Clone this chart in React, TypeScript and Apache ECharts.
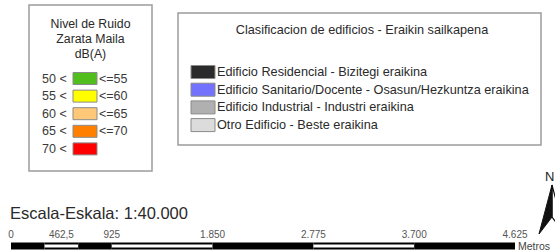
import React, { useEffect, useRef } from "react";
import * as echarts from "echarts";

const noiseTitle = ["Nivel de Ruido", "Zarata Maila", "dB(A)"];
const noiseLower = ["50 <", "55 <", "60 <", "65 <", "70 <"];
const noiseUpper = ["<=55", "<=60", "<=65", "<=70", ""];
const noiseColors = ["#52BE1E", "#FFFF00", "#FFC878", "#FF8000", "#FF0000"];

const buildingTitle = "Clasificacion de edificios - Eraikin sailkapena";
const buildingTypes = [
  "Edificio Residencial - Bizitegi eraikina",
  "Edificio Sanitario/Docente - Osasun/Hezkuntza eraikina",
  "Edificio Industrial - Industri eraikina",
  "Otro Edificio - Beste eraikina",
];
const buildingColors = ["#2B2B2B", "#7272FF", "#B0B0B0", "#DCDCDC"];

const scaleTitle = "Escala-Eskala: 1:40.000";
const scaleBreaks = [0, 308.33, 616.67, 925, 1850, 2775, 3700, 4625];
const scaleTickValues = [0, 462.5, 925, 1850, 2775, 3700, 4625];
const scaleTickLabels = ["0", "462,5", "925", "1.850", "2.775", "3.700", "4.625"];
const scaleUnit = "Metros";
const northLabel = "N";

const FONT = "Liberation Sans, Arial, sans-serif";

export default function App() {
  const ref = useRef<HTMLDivElement>(null);
  useEffect(() => {
    if (!ref.current) return;
    const chart = echarts.init(ref.current, undefined, { renderer: "svg" });

    const graphics: any[] = [];
    // Noise legend box
    graphics.push({
      type: "rect",
      shape: { x: 29, y: 5, width: 123, height: 166 },
      style: { fill: "#fff", stroke: "#9c9c9c", lineWidth: 1.5 },
    });
    noiseTitle.forEach((t, i) => {
      graphics.push({
        type: "text",
        x: 90.5,
        y: 23.5 + i * 15,
        style: { text: t, fontSize: 12.3, fontFamily: FONT, fill: "#2a2a2a", align: "center", verticalAlign: "middle" },
      });
    });
    noiseLower.forEach((t, i) => {
      const top = 72.5 + i * 17.6;
      graphics.push({
        type: "text",
        x: 42,
        y: top + 6,
        style: { text: t, fontSize: 12.5, fontFamily: FONT, fill: "#3a3a3a", align: "left", verticalAlign: "middle" },
      });
      graphics.push({
        type: "rect",
        shape: { x: 73, y: top, width: 24, height: 12 },
        style: { fill: noiseColors[i], stroke: "#8a8a8a", lineWidth: 1 },
      });
      if (noiseUpper[i]) {
        graphics.push({
          type: "text",
          x: 99,
          y: top + 6,
          style: { text: noiseUpper[i], fontSize: 12.5, fontFamily: FONT, fill: "#3a3a3a", align: "left", verticalAlign: "middle" },
        });
      }
    });

    // Building legend box
    graphics.push({
      type: "rect",
      shape: { x: 178, y: 13, width: 363, height: 132 },
      style: { fill: "#fff", stroke: "#9c9c9c", lineWidth: 1.5 },
    });
    graphics.push({
      type: "text",
      x: 362,
      y: 30,
      style: { text: buildingTitle, fontSize: 12.7, fontFamily: FONT, fill: "#2a2a2a", align: "center", verticalAlign: "middle" },
    });
    buildingTypes.forEach((t, i) => {
      const top = 65.5 + i * 17.7;
      graphics.push({
        type: "rect",
        shape: { x: 191, y: top, width: 24, height: 13 },
        style: { fill: buildingColors[i], stroke: "#8a8a8a", lineWidth: 1 },
      });
      graphics.push({
        type: "text",
        x: 217,
        y: top + 6.5,
        style: { text: t, fontSize: 12.7, fontFamily: FONT, fill: "#2a2a2a", align: "left", verticalAlign: "middle" },
      });
    });

    // Scale title
    graphics.push({
      type: "text",
      x: 10,
      y: 213,
      style: { text: scaleTitle, fontSize: 16.5, fontFamily: FONT, fill: "#2a2a2a", align: "left", verticalAlign: "middle" },
    });
    // Unit
    graphics.push({
      type: "text",
      x: 518,
      y: 245.5,
      style: { text: scaleUnit, fontSize: 10.5, fontFamily: FONT, fill: "#444", align: "left", verticalAlign: "middle" },
    });
    // North arrow
    graphics.push({
      type: "text",
      x: 545,
      y: 176,
      style: { text: northLabel, fontSize: 13, fontFamily: FONT, fill: "#222", align: "left", verticalAlign: "middle" },
    });
    graphics.push({
      type: "polygon",
      shape: { points: [[552, 185], [565, 234], [552, 217]] },
      style: { fill: "#fff", stroke: "#111", lineWidth: 1.2 },
    });
    graphics.push({
      type: "polygon",
      shape: { points: [[552, 185], [539, 234], [552, 217]] },
      style: { fill: "#111", stroke: "#111", lineWidth: 1 },
    });

    const segments = scaleBreaks.slice(0, -1).map((s, i) => [s, scaleBreaks[i + 1], i % 2]);

    chart.setOption({
      animation: false,
      grid: { left: 11, right: 40, top: 242.5, height: 7 },
      xAxis: {
        type: "value",
        min: 0,
        max: 4625,
        position: "top",
        axisLine: { show: false },
        axisTick: { show: false },
        splitLine: { show: false },
        axisLabel: {
          customValues: scaleTickValues,
          formatter: (v: number) => {
            const idx = scaleTickValues.findIndex((x) => Math.abs(x - v) < 0.01);
            return idx >= 0 ? scaleTickLabels[idx] : "";
          },
          fontSize: 10,
          fontFamily: FONT,
          color: "#555",
          margin: 3.5,
          hideOverlap: false,
        },
      },
      yAxis: { type: "value", min: 0, max: 1, show: false },
      graphic: graphics,
      series: [
        {
          type: "custom",
          encode: { x: [0, 1] },
          data: segments,
          clip: false,
          renderItem: (params: any, api: any) => {
            const s = api.value(0);
            const e = api.value(1);
            const hollow = api.value(2) === 1;
            const p0 = api.coord([s, 1]);
            const p1 = api.coord([e, 0]);
            const x = p0[0];
            const y = p0[1];
            const w = p1[0] - p0[0];
            const h = p1[1] - p0[1];
            const children: any[] = [
              { type: "rect", shape: { x, y, width: w, height: h }, style: { fill: "#000" } },
            ];
            if (hollow) {
              children.push({
                type: "rect",
                shape: { x, y: y + 2, width: w, height: h - 4 },
                style: { fill: "#fff" },
              });
            }
            return { type: "group", children };
          },
        },
      ],
    });
    return () => chart.dispose();
  }, []);
  return (
    <div
      ref={ref}
      style={{ position: "fixed", left: 0, top: 0, width: 555, height: 251, background: "#fff" }}
    />
  );
}
